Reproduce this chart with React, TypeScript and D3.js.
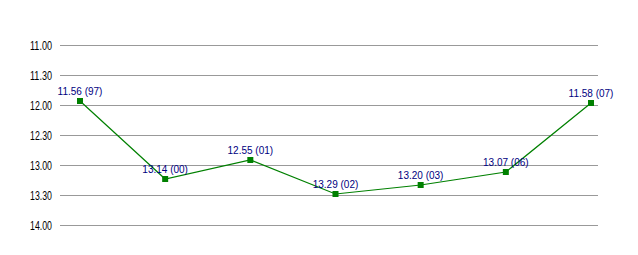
import React from "react";
import * as d3 from "d3";

const years = ["97", "00", "01", "02", "03", "06", "07"];
const times = ["11.56", "13.14", "12.55", "13.29", "13.20", "13.07", "11.58"];
const tickLabels = ["11.00", "11.30", "12.00", "12.30", "13.00", "13.30", "14.00"];

const toSec = (t: string) => {
  const [m, s] = t.split(".").map(Number);
  return m * 60 + s;
};

export default function App() {
  const W = 638, H = 255;
  const x = d3.scalePoint<string>().domain(years.map((_, i) => String(i))).range([80, 591]);
  const y = d3.scaleLinear().domain([660, 840]).range([45, 225]);
  const line = d3
    .line<string>()
    .x((_, i) => x(String(i))!)
    .y((d) => y(toSec(d)));
  return (
    <svg width={W} height={H} style={{ position: "absolute", left: 0, top: 0, background: "#fff" }}>
      {tickLabels.map((t) => {
        const yy = Math.round(y(toSec(t))) + 0.5;
        return (
          <g key={t}>
            <line x1={60} x2={598} y1={yy} y2={yy} stroke="#999" strokeWidth={1} />
            <text
              x={30}
              y={yy + 4.5}
              textLength={22}
              lengthAdjust="spacingAndGlyphs"
              fontFamily="Arial, 'Liberation Sans', sans-serif"
              fontSize={13}
              fill="#000"
            >
              {t}
            </text>
          </g>
        );
      })}
      <path d={line(times) || ""} fill="none" stroke="#008000" strokeWidth={1.2} />
      {times.map((t, i) => {
        const cx = x(String(i))!;
        const cy = y(toSec(t));
        return (
          <g key={i}>
            <rect x={cx - 3} y={cy - 3} width={6} height={6} fill="#008000" />
            <text
              x={cx}
              y={cy - 6}
              textAnchor="middle"
              fontFamily="Arial, 'Liberation Sans', sans-serif"
              fontSize={10}
              fill="#000080"
            >
              {`${t} (${years[i]})`}
            </text>
          </g>
        );
      })}
    </svg>
  );
}
